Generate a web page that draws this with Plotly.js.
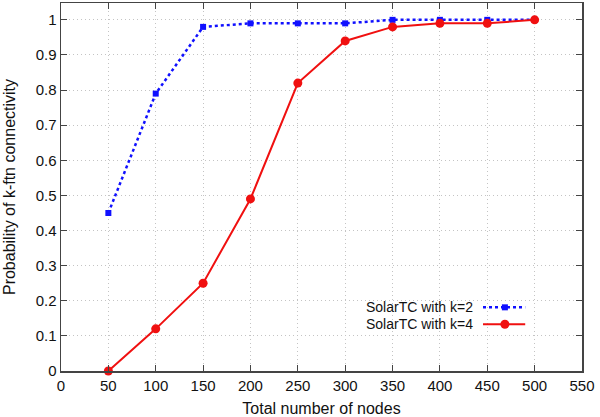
<!DOCTYPE html>
<html><head><meta charset="utf-8">
<script src="https://cdn.plot.ly/plotly-3.0.1.min.js"></script>
<style>html,body{margin:0;padding:0;background:#fff}#chart{width:600px;height:417px}</style>
</head><body><div id="chart"></div>
<script>
const nodes = [50, 100, 150, 200, 250, 300, 350, 400, 450, 500];
const k2 = [0.45, 0.79, 0.98, 0.99, 0.99, 0.99, 1.0, 1.0, 1.0, 1.0];
const k4 = [0.0, 0.12, 0.25, 0.49, 0.82, 0.94, 0.98, 0.99, 0.99, 1.0];
const names = ['SolarTC with k=2', 'SolarTC with k=4'];
const blue = '#1010ff', red = '#f01010';
const F = 'Liberation Sans, Arial, sans-serif';

const traces = [
  {x: nodes, y: k2, mode: 'lines+markers', name: names[0], showlegend: false, cliponaxis: false,
   line: {color: blue, width: 2.5, dash: 'dot'}, marker: {symbol: 'square', size: 6, color: blue}},
  {x: nodes, y: k4, mode: 'lines+markers', name: names[1], showlegend: false, cliponaxis: false,
   line: {color: red, width: 2}, marker: {symbol: 'circle', size: 9, color: red}}
];

const ax = {showline: true, linecolor: '#444', linewidth: 1.5, mirror: 'ticks', ticks: 'inside', ticklen: 6,
  tickcolor: '#444', showgrid: true, gridcolor: '#c4c4c4', griddash: '1px,3px', gridwidth: 1, zeroline: false,
  tickfont: {family: F, size: 15, color: '#111'}};

const legX1 = 0.795, lineA = 0.81, lineB = 0.891, mk = 0.852, r1 = 0.173, r2 = 0.127;
const layout = {
  width: 600, height: 417, margin: {l: 61, r: 18, t: 3, b: 46},
  paper_bgcolor: '#fff', plot_bgcolor: '#fff', showlegend: false,
  xaxis: Object.assign({}, ax, {range: [0, 550], dtick: 50, tick0: 0,
    title: {text: 'Total number of nodes', font: {family: F, size: 16, color: '#111'}, standoff: 10}}),
  yaxis: Object.assign({}, ax, {range: [0, 1.048], dtick: 0.1, tick0: 0,
    title: {text: 'Probability of k-ftn connectivity', font: {family: F, size: 16, color: '#111'}, standoff: 16}}),
  annotations: [
    {xref: 'paper', yref: 'paper', x: legX1, y: r1, xanchor: 'right', yanchor: 'middle', showarrow: false,
     text: names[0], font: {family: F, size: 14, color: '#111'}},
    {xref: 'paper', yref: 'paper', x: legX1, y: r2, xanchor: 'right', yanchor: 'middle', showarrow: false,
     text: names[1], font: {family: F, size: 14, color: '#111'}}
  ],
  shapes: [
    {type: 'line', xref: 'paper', yref: 'paper', x0: lineA, x1: lineB, y0: r1, y1: r1, line: {color: blue, width: 2.5, dash: 'dot'}},
    {type: 'line', xref: 'paper', yref: 'paper', x0: lineA, x1: lineB, y0: r2, y1: r2, line: {color: red, width: 2}}
  ]
};
Plotly.newPlot('chart', traces, layout, {displayModeBar: false, staticPlot: true}).then(() => {
  const gd = document.getElementById('chart');
  const fl = gd._fullLayout;
  const px = fl._size.l + mk * fl._size.w;
  const py1 = fl._size.t + (1 - r1) * fl._size.h, py2 = fl._size.t + (1 - r2) * fl._size.h;
  const svg = gd.querySelector('.main-svg:last-of-type');
  const ns = 'http://www.w3.org/2000/svg';
  const sq = document.createElementNS(ns, 'rect');
  sq.setAttribute('x', px - 3); sq.setAttribute('y', py1 - 3); sq.setAttribute('width', 6); sq.setAttribute('height', 6);
  sq.setAttribute('fill', blue);
  const c = document.createElementNS(ns, 'circle');
  c.setAttribute('cx', px); c.setAttribute('cy', py2); c.setAttribute('r', 4.5); c.setAttribute('fill', red);
  svg.appendChild(sq); svg.appendChild(c);
});
</script></body></html>
